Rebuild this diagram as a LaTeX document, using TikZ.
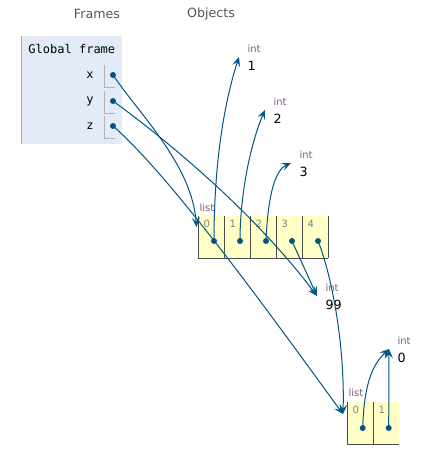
\documentclass[tikz,border=0pt]{standalone}
\usepackage{fontspec}
\setmainfont{DejaVu Sans}
\newfontfamily\codefont{DejaVu Sans Mono}
\usetikzlibrary{arrows.meta}
\definecolor{ptarrow}{HTML}{005583}
\definecolor{ptframe}{HTML}{E2EBF6}
\definecolor{ptlist}{HTML}{FFFFC6}
\definecolor{pttype}{HTML}{7F5A83}
\definecolor{pthead}{HTML}{555555}

\begin{document}
\begin{tikzpicture}[x=0.75pt, y=-0.75pt, line width=0.75pt,
    ptref/.style={ptarrow, line width=0.75pt,
      -{Stealth[length=7pt, width=6pt, inset=3pt]}},
    ptdot/.style={circle, fill=ptarrow, inner sep=0pt, minimum size=4.5pt},
    header/.style={text=pthead, font=\fontsize{9.5}{11}\selectfont},
    typelbl/.style={text=pttype, font=\fontsize{7.5}{9}\selectfont,
      anchor=west, inner sep=0pt},
    vallbl/.style={font=\fontsize{9.5}{11}\selectfont, anchor=west, inner sep=0pt},
    idxlbl/.style={text=gray, font=\fontsize{7.5}{9}\selectfont, inner sep=0pt}]
  % picture is laid out in pixels of the 436x471 frame, y pointing down
  \useasboundingbox (0,0) rectangle (436,471);

  % column headings
  \node[header] (hframes) at (97,14) {Frames};
  \node[header] (hobjects) at (211,14) {Objects};

  % the global frame
  \fill[ptframe] (21,36) rectangle (122,144);
  \draw[gray!70, line width=1pt] (21.5,36) -- (21.5,144);
  \node[anchor=west, inner sep=0pt, font=\codefont\fontsize{9}{11}\selectfont]
    (gframe) at (28,49) {Global frame};
  \foreach \v/\yy in {x/75, y/101, z/126} {
    \node[anchor=east, inner sep=0pt, font=\codefont\fontsize{9}{11}\selectfont]
      (name\v) at (94,\yy) {\v};
    \draw[gray!60] (104.5,\yy-10) -- (104.5,\yy+12) -- (115,\yy+12);
    \node[ptdot] (var\v) at (113,\yy) {};
  }

  % ints: type label, value and the point an arrow lands on
  \foreach \n/\xx/\yy in {one/247/49, two/273/102, three/299/155, nn/325/288, zero/397/341} {
    \coordinate (int\n) at (\xx,\yy);
    \coordinate (tip\n) at (\xx-8,\yy+8);
  }
  \node[typelbl] (tyone) at (intone) {int};
  \node[vallbl] (valone) at ([shift={(0,17)}]intone) {1};
  \node[typelbl] (tytwo) at (inttwo) {int};
  \node[vallbl] (valtwo) at ([shift={(0,17)}]inttwo) {2};
  \node[typelbl] (tythree) at (intthree) {int};
  \node[vallbl] (valthree) at ([shift={(0,17)}]intthree) {3};
  \node[typelbl] (tynn) at (intnn) {int};
  \node[vallbl] (valnn) at ([shift={(0,17)}]intnn) {99};
  \node[typelbl] (tyzero) at (intzero) {int};
  \node[vallbl] (valzero) at ([shift={(0,17)}]intzero) {0};

  % the outer list, five cells
  \node[typelbl] (lsttop) at (199,208) {list};
  \fill[ptlist] (198,216) rectangle (328,258);
  \draw[black!70] (198,216) -- (198,258) -- (328,258);
  \foreach \i in {0,...,4} {
    \draw[black!70] ({224+26*\i},216) -- ({224+26*\i},258);
    \node[idxlbl, anchor=north west] (idxa\i) at ({203+26*\i},220) {\i};
    \node[ptdot] (cella\i) at ({214+26*\i},241) {};
  }
  \coordinate (tiptop) at (196.5,227);

  % the inner list, two cells
  \node[typelbl] (lstbot) at (348,393) {list};
  \fill[ptlist] (347.5,402) rectangle (399,444);
  \draw[black!70] (347.5,402) -- (347.5,444) -- (399,444);
  \draw[black!70] (373.3,402) -- (373.3,444);
  \foreach \i in {0,1} {
    \node[idxlbl, anchor=north west] (idxb\i) at ({352+26*\i},406) {\i};
    \node[ptdot] (cellb\i) at ({362.7+26*\i},428) {};
  }
  \coordinate (tipbot) at (343,414);

  % references
  \draw[ptref] (varx.center) .. controls (140,115) and (192,165) .. (tiptop);
  \draw[ptref] (vary.center) .. controls (180,150) and (260,220) .. (tipnn);
  \draw[ptref] (varz.center) .. controls (175,180) and (285,335) .. (tipbot);
  \draw[ptref] (cella0.center) .. controls (214,160) and (225,100) .. (tipone);
  \draw[ptref] (cella1.center) .. controls (240,190) and (252,140) .. (tiptwo);
  \draw[ptref] (cella2.center) .. controls (268,195) and (275,170) .. (tipthree);
  \draw[ptref] (cella3.center) -- (tipnn);
  \draw[ptref] (cella4.center) .. controls (330,270) and (345,340) .. (tipbot);
  \draw[ptref] (cellb0.center) .. controls (364,385) and (372,365) .. (tipzero);
  \draw[ptref] (cellb1.center) -- (tipzero);
\end{tikzpicture}
\end{document}
